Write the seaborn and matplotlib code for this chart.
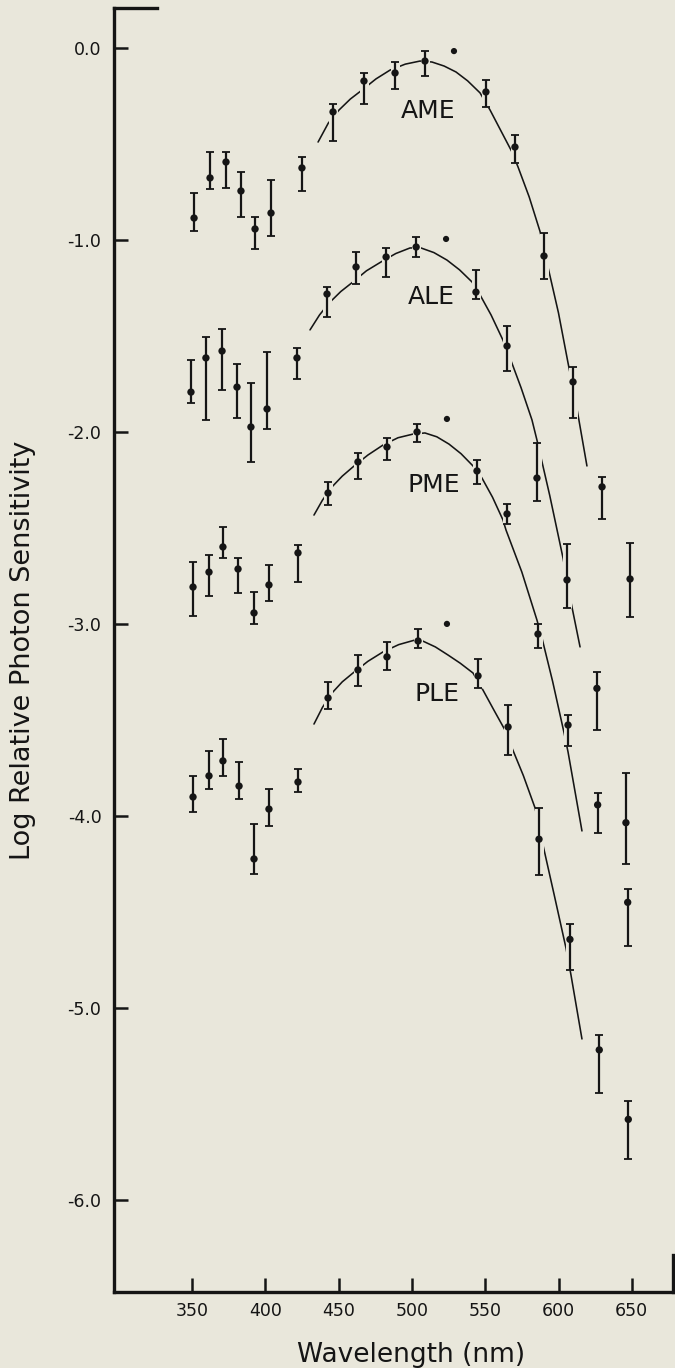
import matplotlib
matplotlib.use("Agg")
import matplotlib.pyplot as plt
from matplotlib.ticker import FormatStrFormatter
import seaborn as sns
import numpy as np

# ---------------- data ----------------
series_names = ["AME", "ALE", "PME", "PLE"]

wl_ame = [351.4, 362.3, 373.2, 383.4, 393.0, 403.9, 425.0, 446.2, 467.3, 488.5, 508.9,
          550.5, 570.3, 590.1, 609.9, 629.7, 648.8]
ame = [-0.885, -0.676, -0.593, -0.744, -0.942, -0.859, -0.624, -0.332, -0.171, -0.129, -0.067,
       -0.228, -0.515, -1.083, -1.739, -2.286, -2.766]
ame_hi = [-0.755, -0.541, -0.541, -0.645, -0.880, -0.687, -0.567, -0.291, -0.129, -0.072, -0.015,
          -0.166, -0.452, -0.963, -1.661, -2.234, -2.578]
ame_lo = [-0.952, -0.734, -0.728, -0.880, -1.046, -0.979, -0.744, -0.484, -0.291, -0.213, -0.145,
          -0.306, -0.598, -1.203, -1.927, -2.453, -2.964]

wl_ale = [349.3, 359.5, 370.5, 380.7, 390.2, 401.2, 421.6, 442.1, 461.9, 482.4, 502.9,
          543.7, 564.9, 585.3, 605.8, 626.2, 646.0]
ale = [-1.792, -1.614, -1.578, -1.766, -1.974, -1.880, -1.614, -1.281, -1.140, -1.088, -1.036,
       -1.271, -1.552, -2.240, -2.771, -3.336, -4.036]
ale_hi = [-1.625, -1.505, -1.463, -1.645, -1.745, -1.583, -1.562, -1.244, -1.062, -1.041, -0.984,
          -1.156, -1.447, -2.057, -2.583, -3.249, -3.775]
ale_lo = [-1.849, -1.937, -1.781, -1.927, -2.156, -1.984, -1.724, -1.401, -1.229, -1.192, -1.088,
          -1.307, -1.682, -2.359, -2.917, -3.553, -4.253]

wl_pme = [350.7, 361.6, 371.1, 381.4, 392.3, 402.5, 422.3, 442.8, 463.2, 483.0, 503.5,
          544.4, 564.9, 586.0, 606.5, 626.7, 647.2]
pme = [-2.808, -2.730, -2.599, -2.714, -2.943, -2.797, -2.630, -2.318, -2.156, -2.078, -2.000,
       -2.203, -2.427, -3.053, -3.527, -3.943, -4.451]
pme_hi = [-2.677, -2.641, -2.495, -2.657, -2.834, -2.693, -2.589, -2.261, -2.109, -2.031, -1.958,
          -2.146, -2.375, -3.001, -3.475, -3.883, -4.382]
pme_lo = [-2.959, -2.855, -2.657, -2.839, -3.000, -2.881, -2.782, -2.380, -2.245, -2.146, -2.052,
          -2.271, -2.479, -3.126, -3.636, -4.088, -4.677]

wl_ple = [350.7, 361.6, 371.1, 382.1, 392.3, 402.5, 422.3, 442.8, 463.2, 483.0, 504.2,
          545.1, 565.6, 586.7, 607.8, 627.8, 647.6]
ple = [-3.902, -3.792, -3.714, -3.845, -4.225, -3.965, -3.824, -3.386, -3.240, -3.172, -3.089,
       -3.271, -3.537, -4.122, -4.644, -5.220, -5.582]
ple_hi = [-3.792, -3.662, -3.600, -3.720, -4.043, -3.860, -3.756, -3.303, -3.162, -3.094, -3.027,
          -3.183, -3.422, -3.961, -4.564, -5.142, -5.485]
ple_lo = [-3.980, -3.860, -3.792, -3.912, -4.303, -4.053, -3.876, -3.443, -3.323, -3.240, -3.126,
          -3.334, -3.683, -4.308, -4.804, -5.446, -5.788]

# single points without error bars (near 525 nm)
dot_wl = [528.7, 523.3, 523.9, 523.9]
dot_val = [-0.015, -0.994, -1.932, -3.000]

# fitted curves
curve_ame_wl = [436.0, 443.0, 450.3, 458.0, 466.0, 475.5, 485.1, 495.5, 505.5, 513.7, 522.0,
                530.1, 538.0, 546.5, 553.3, 560.0, 568.3, 572.4, 580.0, 587.4, 592.8, 600.0,
                606.5, 611.9, 619.4]
curve_ame = [-0.489, -0.390, -0.322, -0.265, -0.218, -0.160, -0.114, -0.083, -0.067, -0.072,
             -0.093, -0.124, -0.170, -0.233, -0.322, -0.420, -0.541, -0.619, -0.775, -0.955,
             -1.140, -1.380, -1.640, -1.849, -2.177]
curve_ale_wl = [430.5, 437.0, 443.5, 451.5, 459.8, 469.0, 478.9, 489.0, 498.7, 506.2, 515.0,
                523.9, 532.5, 541.0, 546.5, 554.0, 562.1, 566.9, 574.5, 581.9, 585.3, 594.0,
                603.1, 607.8, 614.7]
curve_ale = [-1.468, -1.390, -1.328, -1.268, -1.218, -1.160, -1.114, -1.070, -1.041, -1.041,
             -1.065, -1.104, -1.155, -1.218, -1.286, -1.390, -1.521, -1.614, -1.770, -1.937,
             -2.042, -2.330, -2.657, -2.860, -3.120]
curve_pme_wl = [433.2, 439.0, 445.5, 452.5, 459.8, 470.0, 480.3, 490.5, 500.7, 508.9, 517.0,
                525.3, 533.5, 541.7, 547.8, 555.0, 562.1, 564.2, 575.0, 585.3, 588.7, 596.0,
                603.8, 606.5, 614.7, 616.0]
curve_pme = [-2.433, -2.355, -2.286, -2.230, -2.182, -2.120, -2.068, -2.030, -2.011, -2.005,
             -2.025, -2.063, -2.113, -2.177, -2.240, -2.340, -2.458, -2.511, -2.730, -2.980,
             -3.073, -3.300, -3.568, -3.667, -4.022, -4.079]
curve_ple_wl = [433.2, 439.0, 445.5, 452.5, 459.8, 470.0, 480.3, 491.0, 502.1, 507.6, 516.0,
                524.6, 533.0, 541.7, 548.5, 556.0, 564.2, 568.3, 576.0, 584.0, 589.4, 597.0,
                605.1, 608.5, 616.0]
curve_ple = [-3.522, -3.435, -3.360, -3.302, -3.256, -3.195, -3.146, -3.108, -3.084, -3.090,
             -3.120, -3.162, -3.205, -3.256, -3.345, -3.450, -3.563, -3.647, -3.790, -3.959,
             -4.152, -4.410, -4.689, -4.829, -5.163]

label_wl = [511.0, 513.0, 515.0, 516.8]
label_val = [-0.325, -1.294, -2.274, -3.363]

x_ticks = [350, 400, 450, 500, 550, 600, 650]
y_ticks = [0.0, -1.0, -2.0, -3.0, -4.0, -5.0, -6.0]

# ---------------- style ----------------
BG = "#e9e7db"
INK = "#151515"

sns.set_style("ticks")
plt.rcParams["font.family"] = ["DejaVu Sans"]
plt.rcParams["axes.unicode_minus"] = False

W, H = 675, 1368
fig = plt.figure(figsize=(W / 100, H / 100), dpi=100, facecolor=BG)
ax_left, ax_right, ax_top, ax_bot = 114, 673, 8, 1291.7
ax = fig.add_axes([ax_left / W, (H - ax_bot) / H, (ax_right - ax_left) / W, (ax_bot - ax_top) / H])
ax.set_facecolor(BG)

groups = [
    (wl_ame, ame, ame_hi, ame_lo, curve_ame_wl, curve_ame),
    (wl_ale, ale, ale_hi, ale_lo, curve_ale_wl, curve_ale),
    (wl_pme, pme, pme_hi, pme_lo, curve_pme_wl, curve_pme),
    (wl_ple, ple, ple_hi, ple_lo, curve_ple_wl, curve_ple),
]

for wl, val, hi, lo, cwl, cval in groups:
    sns.lineplot(x=cwl, y=cval, ax=ax, color=INK, linewidth=1.15, sort=False,
                 estimator=None, legend=False, zorder=2)
    v = np.asarray(val)
    yerr = [v - np.asarray(lo), np.asarray(hi) - v]
    # halo that interrupts the curve where it meets a data bar
    ax.errorbar(wl, val, yerr=yerr, fmt="none", ecolor=BG, elinewidth=6.5,
                capsize=0, zorder=3)
    ax.errorbar(wl, val, yerr=yerr, fmt="none", ecolor=INK, elinewidth=1.6,
                capsize=2.9, capthick=1.3, zorder=4)
    sns.scatterplot(x=wl, y=val, ax=ax, color=INK, s=28, edgecolor="none",
                    legend=False, zorder=5)

sns.scatterplot(x=dot_wl, y=dot_val, ax=ax, color=INK, s=20, edgecolor="none",
                legend=False, zorder=5)

for name, lw_, lv in zip(series_names, label_wl, label_val):
    ax.text(lw_, lv, name, ha="center", va="center", fontsize=18, color=INK, zorder=6)

# ---------------- axes ----------------
ax.set_xlim(296.8, 678.1)
ax.set_ylim(-6.48, 0.2095)
ax.set_xticks(x_ticks)
ax.set_yticks(y_ticks)
ax.yaxis.set_major_formatter(FormatStrFormatter("%.1f"))
ax.tick_params(direction="in", length=10, width=1.8, color=INK, labelcolor=INK,
               labelsize=12.5)
ax.tick_params(axis="y", pad=9)
ax.tick_params(axis="x", pad=7.5)
ax.set_xlabel("")
ax.set_ylabel("")

for side in ["left", "bottom", "top", "right"]:
    ax.spines[side].set_visible(True)
    ax.spines[side].set_color(INK)
    ax.spines[side].set_linewidth(2.4)
ax.spines["top"].set_bounds(296.8, 326.1)
ax.spines["right"].set_bounds(-6.48, -6.29)

fig.text(411 / W, (H - 1361.7) / H, "Wavelength (nm)", ha="center", va="baseline",
         fontsize=19, color=INK)
fig.text(23.5 / W, (H - 650) / H, "Log Relative Photon Sensitivity", ha="center",
         va="center", rotation=90, fontsize=19.5, color=INK)

fig.savefig("out.png", dpi=100, facecolor=BG)
